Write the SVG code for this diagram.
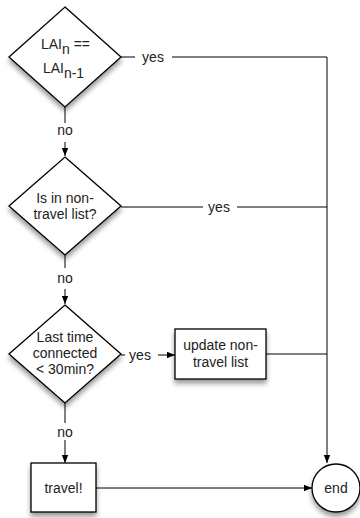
<svg xmlns="http://www.w3.org/2000/svg" width="360" height="518" viewBox="0 0 360 518">
<style>
.n{fill:#fff;stroke:#000;stroke-width:1.3;filter:url(#sh)}
.c{fill:none;stroke:#000;stroke-width:1}
.a{fill:none;stroke:#000;stroke-width:1;marker-end:url(#ah)}
text{font-family:"Liberation Sans",Arial,sans-serif;font-size:14px;fill:#222;text-anchor:middle}
</style>
<defs>
<filter id="sh" x="-20%" y="-20%" width="150%" height="160%">
<feDropShadow dx="0" dy="4" stdDeviation="2.5" flood-color="#000" flood-opacity="0.4"/>
</filter>
<marker id="ah" viewBox="0 0 10 10" refX="10" refY="5" markerWidth="8" markerHeight="8" markerUnits="userSpaceOnUse" orient="auto">
<path d="M0,1 L10,5 L0,9 Z" fill="#000"/>
</marker>
</defs>
<g id="connectors">
<path class="c" d="M121,57 H135"/>
<path class="c" d="M172,57 H327"/>
<path class="a" d="M327,57 V463"/>
<path class="c" d="M65,107 V123"/>
<path class="a" d="M65,142 V156"/>
<path class="c" d="M121,207 H203"/>
<path class="c" d="M237,207 H327"/>
<path class="c" d="M65,255 V268"/>
<path class="a" d="M65,289 V304"/>
<path class="c" d="M121,355 H125"/>
<path class="a" d="M158,355 H175"/>
<path class="c" d="M266,354 H327"/>
<path class="c" d="M65,403 V423"/>
<path class="a" d="M65,440 V463"/>
<path class="a" d="M96,488 H312"/>
<text x="153" y="62">yes</text>
<text x="219" y="212">yes</text>
<text x="140" y="360">yes</text>
<text x="65" y="135">no</text>
<text x="65" y="283">no</text>
<text x="65" y="437">no</text>
</g>
<g id="d1">
<polygon class="n" points="65,7 121,57 65,107 9,57"/>
<text x="65.5" y="49"><tspan>LAI</tspan><tspan dy="5">n</tspan><tspan dy="-5"> ==</tspan></text>
<text x="63.5" y="73"><tspan>LAI</tspan><tspan dy="5">n-1</tspan></text>
</g>
<g id="d2">
<polygon class="n" points="65,157 121,206 65,255 9,206"/>
<text x="65" y="203">Is in non-</text>
<text x="65" y="219">travel list?</text>
</g>
<g id="d3">
<polygon class="n" points="65,305 121,354 65,403 9,354"/>
<text x="65" y="342">Last time</text>
<text x="65" y="358">connected</text>
<text x="65" y="374">&lt; 30min?</text>
</g>
<g id="update">
<rect class="n" x="175" y="329" width="91" height="50"/>
<text x="220.5" y="350">update non-</text>
<text x="220.5" y="367">travel list</text>
</g>
<g id="travel">
<rect class="n" x="31" y="463" width="65" height="49"/>
<text x="63.5" y="493">travel!</text>
</g>
<g id="end">
<circle class="n" cx="336" cy="488" r="24"/>
<text x="336" y="493">end</text>
</g>
</svg>
